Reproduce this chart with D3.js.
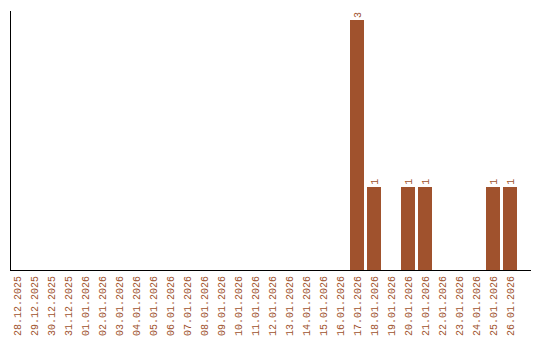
<!DOCTYPE html>
<html>
<head>
<meta charset="utf-8">
<script src="https://cdn.jsdelivr.net/npm/d3@7"></script>
<style>
  body { margin: 0; background: #fff; }
  svg text { font-family: "Liberation Mono", monospace; font-size: 10px; }
</style>
</head>
<body>
<div id="here"></div>
<script>
  var w = 540, h = 340;

  var days = ['28.12.2025', '29.12.2025', '30.12.2025', '31.12.2025', '01.01.2026', '02.01.2026',
    '03.01.2026', '04.01.2026', '05.01.2026', '06.01.2026', '07.01.2026', '08.01.2026',
    '09.01.2026', '10.01.2026', '11.01.2026', '12.01.2026', '13.01.2026', '14.01.2026',
    '15.01.2026', '16.01.2026', '17.01.2026', '18.01.2026', '19.01.2026', '20.01.2026',
    '21.01.2026', '22.01.2026', '23.01.2026', '24.01.2026', '25.01.2026', '26.01.2026'];
  var counts = [0, 0, 0, 0, 0, 0, 0, 0, 0, 0, 0, 0, 0, 0, 0, 0, 0, 0, 0, 0,
    3, 1, 0, 1, 1, 0, 0, 0, 1, 1];

  var color = '#a0522d';
  var mLeft = 10, mRight = 530, mTop = 10, mBottom = 270;

  var data = days.map(function(d, i) { return {day: d, count: counts[i]}; });

  var x = d3.scaleBand()
    .domain(days)
    .range([mLeft, mRight])
    .paddingInner(3 / 17)
    .paddingOuter(0.382)
    .align(0);

  var y = d3.scaleLinear()
    .domain([0, d3.max(counts) * 1.04])
    .range([mBottom, mTop]);

  var svg = d3.select('#here').append('svg')
    .attr('width', w)
    .attr('height', h);

  // bars
  svg.selectAll('.bar')
    .data(data.filter(function(d) { return d.count > 0; }))
    .enter().append('rect')
    .attr('class', 'bar')
    .attr('x', function(d) { return x(d.day); })
    .attr('y', function(d) { return y(d.count); })
    .attr('width', x.bandwidth())
    .attr('height', function(d) { return mBottom - y(d.count); })
    .attr('fill', color)
    .attr('shape-rendering', 'crispEdges');

  // value labels
  svg.selectAll('.val')
    .data(data.filter(function(d) { return d.count > 0; }))
    .enter().append('text')
    .attr('class', 'val')
    .attr('transform', function(d) {
      return 'translate(' + (x(d.day) + x.bandwidth() / 2) + ',' + (y(d.count) - 2) + ') rotate(-90)';
    })
    .attr('dy', '0.35em')
    .attr('fill', color)
    .text(function(d) { return d.count; });

  // axes
  var xAxis = svg.append('g')
    .attr('transform', 'translate(0,' + mBottom + ')')
    .call(d3.axisBottom(x).tickSize(0).tickSizeOuter(0));
  xAxis.attr('font-family', null).attr('font-size', null);
  xAxis.select('.domain').attr('stroke', '#000').attr('shape-rendering', 'crispEdges');
  xAxis.selectAll('text')
    .attr('fill', color)
    .attr('text-anchor', 'end')
    .attr('transform', 'rotate(-90)')
    .attr('x', -6)
    .attr('y', 0)
    .attr('dy', '0.35em');

  var yAxis = svg.append('g')
    .attr('transform', 'translate(' + mLeft + ',0)')
    .call(d3.axisLeft(y).ticks(0).tickSize(0).tickSizeOuter(0));
  yAxis.selectAll('.tick').remove();
  yAxis.select('.domain').attr('stroke', '#000').attr('shape-rendering', 'crispEdges');
</script>
</body>
</html>
